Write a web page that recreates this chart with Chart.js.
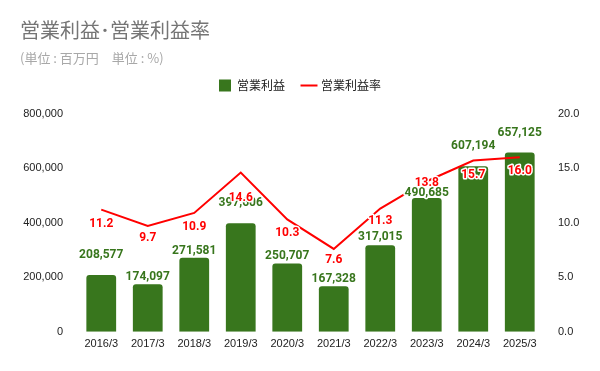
<!DOCTYPE html>
<html><head><meta charset="utf-8">
<script src="https://cdn.jsdelivr.net/npm/chart.js@4/dist/chart.umd.min.js"></script>
<style>html,body{margin:0;padding:0;background:#fff}#wrap{width:600px;height:371px}</style>
</head><body><div id="wrap"><canvas id="c"></canvas></div>
<script>
const categories = ['2016/3','2017/3','2018/3','2019/3','2020/3','2021/3','2022/3','2023/3','2024/3','2025/3'];
const operatingProfit = [208577,174097,271581,397606,250707,167328,317015,490685,607194,657125];
const operatingMargin = [11.2,9.7,10.9,14.6,10.3,7.6,11.3,13.8,15.7,16.0];
const leftTicks = [0,200000,400000,600000,800000];
const rightTicks = [0,5,10,15,20];

const FONT = "Roboto, 'Noto Sans CJK JP', sans-serif";
const TICKFONT = "'Liberation Sans', Arial, sans-serif";
const CJK = "'Noto Sans CJK JP', sans-serif";
const GREEN = '#38761d', RED = '#ff0000';

const spacerPlugin = {
  id: 'legendSpacer',
  beforeInit(chart, args, opts) {
    Chart.layouts.addBox(chart, {
      position: 'top', weight: 0, fullSize: true, options: {},
      isHorizontal() { return true; },
      update(maxW) { this.width = maxW; this.height = opts.height; return this.height; },
      draw() {}
    });
  }
};

const labelPlugin = {
  id: 'valueLabels',
  afterDatasetsDraw(chart, args, opts) {
    const ctx = chart.ctx;
    ctx.save();
    ctx.font = 'bold 12px ' + FONT;
    ctx.textAlign = 'center';
    ctx.textBaseline = 'middle';
    ctx.lineJoin = 'round';
    ctx.lineWidth = 3;
    ctx.strokeStyle = '#fff';
    const barMeta = chart.getDatasetMeta(0);
    barMeta.data.forEach((el, i) => {
      const t = operatingProfit[i].toLocaleString('en-US');
      const y = el.y + opts.barOffsets[i];
      ctx.strokeText(t, el.x, y);
      ctx.fillStyle = GREEN;
      ctx.fillText(t, el.x, y);
    });
    const lineMeta = chart.getDatasetMeta(1);
    lineMeta.data.forEach((el, i) => {
      const t = operatingMargin[i].toFixed(1);
      const y = el.y + opts.lineOffsets[i];
      ctx.strokeText(t, el.x, y);
      ctx.fillStyle = RED;
      ctx.fillText(t, el.x, y);
    });
    ctx.restore();
  }
};

new Chart(document.getElementById('c'), {
  data: {
    labels: categories,
    datasets: [
      { type: 'bar', label: '営業利益', data: operatingProfit, backgroundColor: GREEN, yAxisID: 'y', order: 2,
        barPercentage: 0.8, categoryPercentage: 0.8, borderRadius: { topLeft: 3, topRight: 3 }, borderSkipped: 'bottom', pointStyle: 'rect' },
      { type: 'line', label: '営業利益率', data: operatingMargin, borderColor: RED, backgroundColor: RED, borderWidth: 2,
        pointRadius: 0, tension: 0, yAxisID: 'y1', order: 1, pointStyle: 'line' }
    ]
  },
  options: {
    responsive: true, maintainAspectRatio: false, animation: false,
    layout: { padding: { left: 20, right: 20, top: 4, bottom: 14 } },
    plugins: {
      legendSpacer: { height: 12 },
      valueLabels: {
        barOffsets: [-20, -7, -7, -20, -7.5, -7.5, -8, -5, -20, -20],
        lineOffsets: [14, 12, 14, 25, 14, 11.5, 12.5, 2, 14, 14]
      },
      title: { display: true, text: '営業利益･営業利益率', align: 'start', color: '#757575',
        font: { family: CJK, size: 20, weight: 'normal' }, padding: { top: 14, bottom: 8 } },
      subtitle: { display: true, text: '(単位 : 百万円　単位 : %)', align: 'start', color: '#a8a8a8',
        font: { family: CJK, size: 13, weight: 'normal' }, padding: { top: 0, bottom: -4 } },
      legend: { display: true, position: 'top', align: 'center',
        labels: { usePointStyle: true, boxWidth: 12, boxHeight: 12, color: '#222', padding: 18,
          font: { family: CJK, size: 12 }, sort: (a, b) => a.datasetIndex - b.datasetIndex } },
      tooltip: { enabled: false }
    },
    scales: {
      x: { grid: { display: false, drawTicks: false }, border: { display: false },
        ticks: { color: '#222', font: { family: TICKFONT, size: 11 }, maxRotation: 0, padding: 6 } },
      y: { position: 'left', min: 0, max: 800000, grid: { display: false, drawTicks: false }, border: { display: false },
        afterBuildTicks: a => { a.ticks = leftTicks.map(v => ({ value: v })); },
        afterFit: s => { s.width = 58; },
        ticks: { color: '#222', font: { family: TICKFONT, size: 11 }, padding: 15,
          callback: v => v.toLocaleString('en-US') } },
      y1: { position: 'right', min: 0, max: 20, grid: { display: false, drawTicks: false }, border: { display: false },
        afterBuildTicks: a => { a.ticks = rightTicks.map(v => ({ value: v })); },
        afterFit: s => { s.width = 37; },
        ticks: { color: '#222', font: { family: TICKFONT, size: 11 }, padding: 15,
          callback: v => v.toFixed(1) } }
    }
  },
  plugins: [spacerPlugin, labelPlugin]
});
</script></body></html>
